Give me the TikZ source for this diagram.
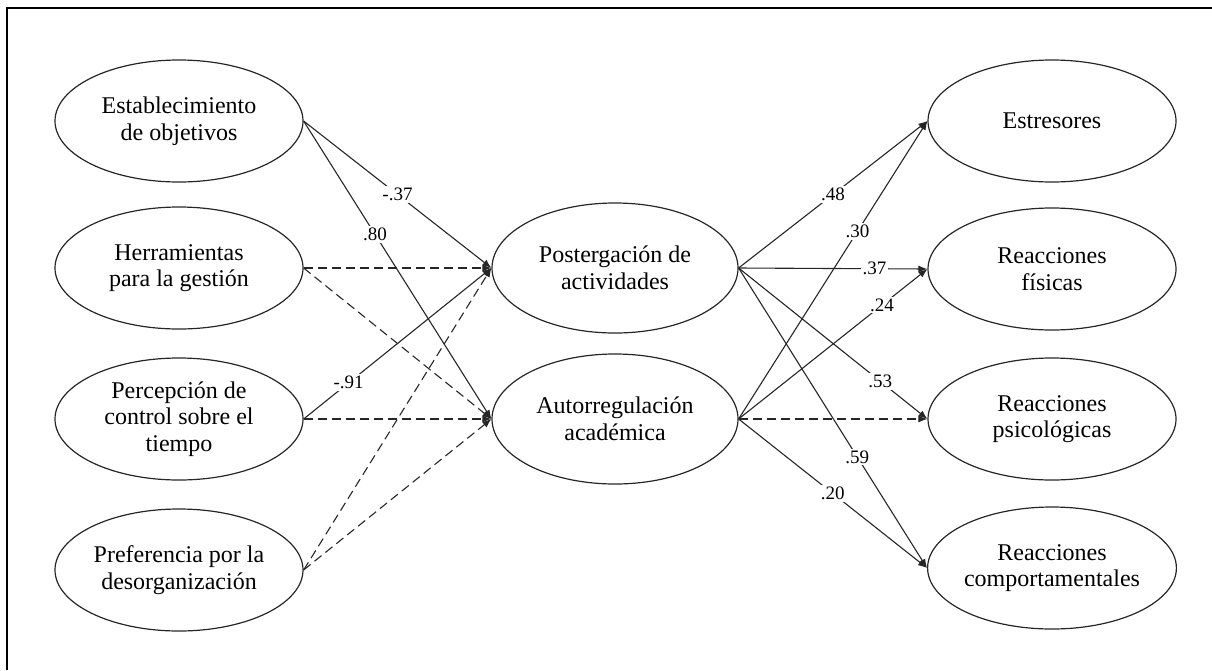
\documentclass[tikz,border=0pt]{standalone}
\usepackage{fontspec}
\setmainfont{Liberation Serif}
\usetikzlibrary{shapes.geometric,arrows.meta}
\begin{document}
\begin{tikzpicture}[x=1pt,y=-1pt,
 var/.style={ellipse,draw=black!85,line width=1.2pt,minimum width=248pt,minimum height=122pt,inner sep=0pt,align=center,font=\fontsize{24}{26.5}\selectfont},
 mid/.style={var,minimum width=246pt,minimum height=130pt},
 conn/.style={draw=black!85,line width=1.1pt,-{Latex[length=9pt,width=7pt]}},
 dsh/.style={conn,dash pattern=on 9pt off 5pt},
 lbl/.style={fill=white,inner sep=2pt,font=\fontsize{19}{21}\selectfont}]
\useasboundingbox (0,0) rectangle (1212,670);
\draw[line width=1.6pt] (7,670) -- (7,8) -- (1212,8);

\node[var] (e1) at (179,121) {Establecimiento\\de objetivos};
\node[var] (e2) at (179,268) {Herramientas\\para la gestión};
\node[var] (e3) at (179,419) {Percepción de\\control sobre el\\tiempo};
\node[var] (e4) at (179,570) {Preferencia por la\\desorganización};

\node[mid] (p) at (615,268) {Postergación de\\actividades};
\node[mid] (a) at (615,419) {Autorregulación\\académica};

\node[var] (r1) at (1052,121) {Estresores};
\node[var] (r2) at (1052,269) {Reacciones\\físicas};
\node[var] (r3) at (1052,419) {Reacciones\\psicológicas};
\node[var] (r4) at (1052,568) {Reacciones\\comportamentales};

\draw[conn] (e1.east) -- node[lbl,pos=0.5] {-.37} (p.west);
\draw[conn] (e1.east) -- node[lbl,pos=0.38] {.80} (a.west);
\draw[dsh] (e2.east) -- (p.west);
\draw[dsh] (e2.east) -- (a.west);
\draw[conn] (e3.east) -- node[lbl,pos=0.24] {-.91} (p.west);
\draw[dsh] (e3.east) -- (a.west);
\draw[dsh] (e4.east) -- (p.west);
\draw[dsh] (e4.east) -- (a.west);

\draw[conn] (p.east) -- node[lbl,pos=0.5] {.48} (r1.west);
\draw[conn] (a.east) -- node[lbl,pos=0.63] {.30} (r1.west);
\draw[conn] (p.east) -- node[lbl,pos=0.72] {.37} (r2.west);
\draw[conn] (a.east) -- node[lbl,pos=0.76] {.24} (r2.west);
\draw[conn] (p.east) -- node[lbl,pos=0.75] {.53} (r3.west);
\draw[dsh] (a.east) -- (r3.west);
\draw[conn] (p.east) -- node[lbl,pos=0.63] {.59} (r4.west);
\draw[conn] (a.east) -- node[lbl,pos=0.5] {.20} (r4.west);
\end{tikzpicture}
\end{document}
